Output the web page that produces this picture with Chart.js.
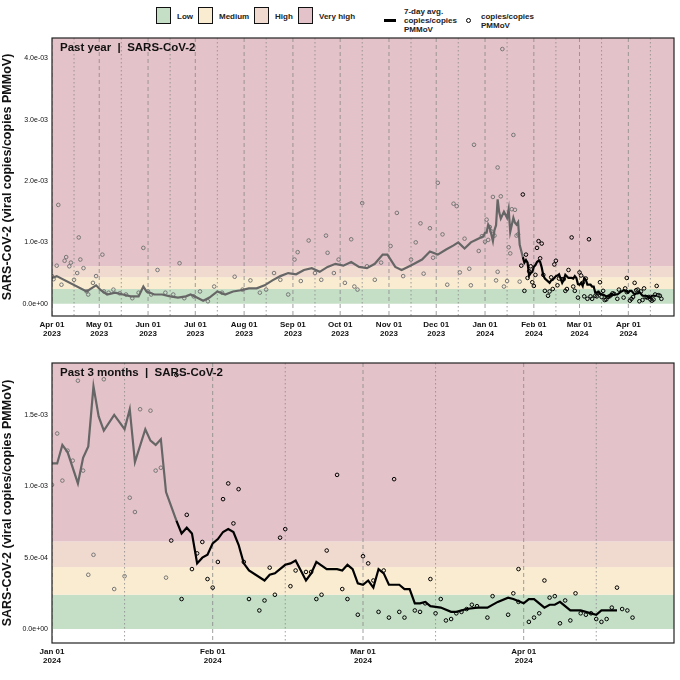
<!DOCTYPE html>
<html><head><meta charset="utf-8">
<script src="https://cdn.jsdelivr.net/npm/chart.js@4/dist/chart.umd.min.js"></script>
<style>
body{margin:0;width:680px;height:680px;background:#fff;font-family:"Liberation Sans Narrow","Liberation Sans",Arial,sans-serif;position:relative;overflow:hidden}
.c{position:absolute;left:0;width:680px;height:340px}
.lg{position:absolute;font-size:8px;font-weight:bold;color:#222;line-height:9px}
.bx{position:absolute;width:13px;height:15px;border:1.5px solid #111;top:7px}
</style></head><body>
<div class="bx" style="left:156px;background:#c5dec6"></div><div class="lg" style="left:177px;top:12px">Low</div>
<div class="bx" style="left:198px;background:#f9ecd1"></div><div class="lg" style="left:219px;top:12px">Medium</div>
<div class="bx" style="left:254px;background:#f0dad0"></div><div class="lg" style="left:275px;top:12px">High</div>
<div class="bx" style="left:298px;background:#e3c3c9"></div><div class="lg" style="left:319px;top:12px">Very high</div>
<div style="position:absolute;left:384px;top:19px;width:12px;height:3px;background:#000"></div>
<div class="lg" style="left:404px;top:7px">7-day avg.<br>copies/copies<br>PMMoV</div>
<div style="position:absolute;left:466px;top:18px;width:3px;height:3px;border:1px solid #000;border-radius:50%"></div>
<div class="lg" style="left:481px;top:12px">copies/copies<br>PMMoV</div>
<canvas id="c1" class="c" style="top:0"></canvas>
<canvas id="c2" class="c" style="top:340px"></canvas>
<script>
// ---- data (values in units of 1e-3 copies/copies PMMoV) ----
// 2023 part: days since 2023-04-01
const avgDays2023 = [0,3,22,25,28,31,35,40,45,50,55,58,60,65,70,75,80,85,88,92,96,100,105,110,115,120,125,130,135,140,145,150,155,160,165,170,175,180,185,190,195,200,205,210,213,218,222,226,230,235,240,245,250,255,258,262,266,270,274];
const avgVals2023 = [0.42,0.45,0.2,0.25,0.3,0.22,0.15,0.18,0.15,0.12,0.12,0.28,0.2,0.15,0.15,0.12,0.1,0.12,0.15,0.1,0.05,0.1,0.2,0.15,0.2,0.22,0.25,0.25,0.3,0.38,0.45,0.5,0.48,0.55,0.58,0.52,0.6,0.65,0.62,0.68,0.6,0.58,0.65,0.8,0.8,0.6,0.55,0.6,0.65,0.72,0.85,0.8,0.88,0.95,1.0,0.9,1.0,1.05,1.1];
const ptDays2023 = [0,1,3,4,6,8,9,11,12,14,16,17,18,20,22,23,26,28,32,33,36,39,43,47,51,55,58,61,63,67,72,77,81,84,90,94,99,103,108,116,121,126,132,136,141,145,150,154,156,158,163,167,171,174,175,179,182,186,190,192,194,197,200,205,209,215,219,223,228,231,234,236,240,242,245,248,251,255,257,259,262,265,266,268,271,273];
const ptVals2023 = [0.45,0.4,0.62,1.61,0.31,0.7,0.76,0.61,0.67,0.39,0.5,1.08,0.72,0.58,0.2,0.15,0.34,0.45,0.8,0.2,0.18,0.23,0.17,0.15,0.09,0.18,0.91,0.2,0.15,0.55,0.18,0.15,0.66,0.09,0.12,0.2,0.04,0.28,0.18,0.44,0.23,0.38,0.18,0.23,0.5,0.39,0.15,0.72,0.84,0.37,1.03,0.5,0.39,1.11,0.83,0.5,0.72,0.34,1.05,0.28,0.23,1.64,0.61,0.39,0.67,0.94,1.48,0.45,0.72,1.0,1.31,0.49,1.23,0.75,1.97,1.13,0.31,1.63,1.59,0.51,1.06,0.57,0.3,2.59,0.86,1.1];
// 2024 part: days since 2024-01-01
const avgDays2024 = [0,1,2,3,5,6,7,8,9,10,12,14,15,16,18,19,20,21,22,24,25,26,27,28,29,30,31,32,33,34,35,36,37,38,41,42,43,45,46,47,48,49,50,51,53,55,56,57,58,59,60,61,62,63,64,65,67,68,69,70,71,72,73,75,77,78,80,82,84,86,88,89,91,92,93,95,96,97,98,100,102,104,105,106,109];
const avgVals2024 = [1.16,1.16,1.29,1.24,1.02,1.2,1.28,1.7,1.49,1.39,1.5,1.4,1.54,1.17,1.4,1.32,1.29,1.33,0.96,0.76,0.67,0.71,0.67,0.46,0.5,0.52,0.6,0.63,0.68,0.7,0.68,0.59,0.46,0.41,0.34,0.38,0.39,0.45,0.46,0.48,0.41,0.34,0.39,0.47,0.42,0.42,0.41,0.45,0.42,0.32,0.31,0.34,0.29,0.42,0.39,0.31,0.31,0.28,0.28,0.18,0.18,0.19,0.16,0.15,0.12,0.12,0.14,0.15,0.15,0.19,0.22,0.21,0.18,0.21,0.21,0.15,0.17,0.17,0.19,0.13,0.13,0.11,0.1,0.13,0.13];
const ptDays2024 = [0,1,2,3,4,5,6,7,8,8,10,11,12,14,15,16,17,18,19,20,21,22,23,24,25,26,27,28,29,30,31,32,33,34,35,36,37,38,40,41,42,43,44,45,46,47,49,50,51,52,53,55,56,57,59,60,61,62,63,64,65,66,67,68,70,71,72,73,74,75,76,77,78,79,80,81,82,84,85,88,89,90,90,92,93,94,95,96,97,98,99,100,101,102,103,104,105,106,107,108,109,110,111,112];
const ptVals2024 = [1.01,1.37,1.04,1.25,1.18,1.74,1.11,0.38,0.52,2.22,1.75,4.15,0.28,0.37,0.92,0.82,1.54,2.75,1.53,1.11,1.13,0.36,0.62,1.78,0.21,0.8,0.42,0.53,0.61,0.35,0.29,0.47,0.91,1.02,0.74,0.98,0.47,0.21,0.13,0.2,0.43,0.24,0.64,0.7,0.3,0.41,0.4,0.4,0.21,0.24,0.55,1.08,0.28,0.21,0.1,0.51,0.46,0.34,0.12,0.41,0.08,1.05,0.12,0.08,0.13,0.12,0.18,0.35,0.11,0.21,0.06,0.07,0.11,0.12,0.14,0.17,0.16,0.08,0.23,0.1,0.25,0.19,0.42,0.05,0.08,0.11,0.34,0.22,0.23,0.04,0.2,0.06,0.25,0.11,0.1,0.11,0.07,0.05,0.07,0.15,0.29,0.14,0.13,0.08];
const OFFSET_2024 = 275; // days from 2023-04-01 to 2024-01-01
const BLACK_FROM_2024 = 22.5;
// thresholds (1e-3)
const bandEdges = [0,0.24,0.434,0.614];
const bandColors = ['#c5dec6','#f9ecd1','#f0dad0','#e3c3c9'];
// month ticks
const topTickDays = [0,30,61,91,122,153,183,214,244,275,306,335,366];
const topTickLabels = [['Apr 01','2023'],['May 01','2023'],['Jun 01','2023'],['Jul 01','2023'],['Aug 01','2023'],['Sep 01','2023'],['Oct 01','2023'],['Nov 01','2023'],['Dec 01','2023'],['Jan 01','2024'],['Feb 01','2024'],['Mar 01','2024'],['Apr 01','2024']];
const topMidDays = [14,44,75,105,136,167,197,228,258,289,320,349,380];
const botTickDays = [0,31,60,91];
const botTickLabels = [['Jan 01','2024'],['Feb 01','2024'],['Mar 01','2024'],['Apr 01','2024']];
const botMidDays = [14,45,74,105];
const topYTicks = [0,1,2,3,4];
const botYTicks = [0,0.5,1,1.5];

function fmt(v){ if(Math.abs(v)<1e-9) return '0.0e+00'; const s=(v/1000).toExponential(1); const [m,e]=s.split('e'); const n=parseInt(e,10); return m+'e'+(n<0?'-':'+')+String(Math.abs(n)).padStart(2,'0'); }

function pairs(d,v,off){ return d.map((x,i)=>({x:x+off,y:v[i]})); }

const bgPlugin = {
  id:'bg',
  beforeDatasetsDraw(chart,args,opts){
    const {ctx,chartArea:a,scales:{x,y}}=chart;
    ctx.save();
    ctx.beginPath();ctx.rect(a.left,a.top,a.right-a.left,a.bottom-a.top);ctx.clip();
    const tops=[bandEdges[1],bandEdges[2],bandEdges[3],y.max];
    for(let i=0;i<4;i++){
      const y0=y.getPixelForValue(bandEdges[i]), y1=y.getPixelForValue(tops[i]);
      ctx.fillStyle=bandColors[i]; ctx.fillRect(a.left,y1,a.right-a.left,y0-y1);
    }
    ctx.strokeStyle='#888'; ctx.lineWidth=0.8;
    ctx.setLineDash([4,3]);
    opts.major.forEach(d=>{const px=x.getPixelForValue(d);ctx.beginPath();ctx.moveTo(px,a.top);ctx.lineTo(px,a.bottom);ctx.stroke();});
    ctx.setLineDash([1.5,2.5]);
    opts.minor.forEach(d=>{const px=x.getPixelForValue(d);ctx.beginPath();ctx.moveTo(px,a.top);ctx.lineTo(px,a.bottom);ctx.stroke();});
    ctx.restore();
  },
  afterDraw(chart,args,opts){
    const {ctx,chartArea:a}=chart;
    ctx.save();
    ctx.strokeStyle='#222';ctx.lineWidth=1.2;ctx.strokeRect(a.left,a.top,a.right-a.left,a.bottom-a.top);
    ctx.fillStyle='#111';ctx.font='bold 11.5px "Liberation Sans Narrow","Liberation Sans",sans-serif';
    ctx.textBaseline='top';ctx.fillText(opts.title,a.left+8,a.top+4);
    ctx.restore();
  }
};

function make(id,avgData,ptData,split,xmax,ymin,ymax,yt,tickDays,tickLabels,mids,title,padTop,padBottomH){
  const col=x=>x>=split?'#000':'#666';
  new Chart(document.getElementById(id),{
    type:'scatter',
    data:{datasets:[
      {data:avgData,showLine:true,pointRadius:0,borderWidth:2.2,borderColor:'#666',
       segment:{borderColor:c=>col(c.p0.parsed.x)},order:1},
      {data:ptData,pointRadius:1.8,borderWidth:1,backgroundColor:'rgba(0,0,0,0)',
       pointBorderColor:ptData.map(p=>p.x>=split?'#000':'#777'),order:2}
    ]},
    options:{
      responsive:false,animation:false,devicePixelRatio:1,
      layout:{padding:{top:padTop,right:6,left:0,bottom:0}},
      plugins:{legend:{display:false},tooltip:{enabled:false},
        bg:{major:tickDays,minor:mids,title:title}},
      scales:{
        x:{type:'linear',min:0,max:xmax,grid:{display:false,drawTicks:false},border:{display:false},
          afterBuildTicks:s=>{s.ticks=tickDays.map(v=>({value:v}));},
          afterFit:s=>{s.height=padBottomH;},
          ticks:{autoSkip:false,maxRotation:0,color:'#111',padding:4,
            font:{size:8,weight:'bold',lineHeight:1.15,family:'"Liberation Sans Narrow","Liberation Sans",sans-serif'},
            callback:(v)=>{const i=tickDays.indexOf(v);return i>=0?tickLabels[i]:'';}}},
        y:{min:ymin,max:ymax,grid:{display:false,drawTicks:false},border:{display:false},
          afterBuildTicks:s=>{s.ticks=yt.map(v=>({value:v}));},
          afterFit:s=>{s.width=52;},
          title:{display:true,text:'SARS-CoV-2 (viral copies/copies PMMoV)',color:'#111',padding:{top:0,bottom:4},
            font:{size:12.5,weight:'bold',family:'"Liberation Sans","DejaVu Sans",sans-serif'}},
          ticks:{color:'#111',padding:4,font:{size:7,family:'"Liberation Sans Narrow","Liberation Sans",sans-serif'},
            callback:v=>fmt(v)}}
      }
    },
    plugins:[bgPlugin]
  });
}
const c1=document.getElementById('c1'),c2=document.getElementById('c2');
[c1,c2].forEach(c=>{c.width=680;c.height=340;});
const topAvg=pairs(avgDays2023,avgVals2023,0).concat(pairs(avgDays2024,avgVals2024,OFFSET_2024));
const topPts=pairs(ptDays2023,ptVals2023,0).concat(pairs(ptDays2024,ptVals2024,OFFSET_2024));
make('c1',topAvg,topPts,OFFSET_2024+BLACK_FROM_2024,395,-0.2,4.33,topYTicks,topTickDays,topTickLabels,topMidDays,'Past year  |  SARS-CoV-2',38,24);
make('c2',pairs(avgDays2024,avgVals2024,0),pairs(ptDays2024,ptVals2024,0),BLACK_FROM_2024,120,-0.098,1.864,botYTicks,botTickDays,botTickLabels,botMidDays,'Past 3 months  |  SARS-CoV-2',23,37);
</script></body></html>
